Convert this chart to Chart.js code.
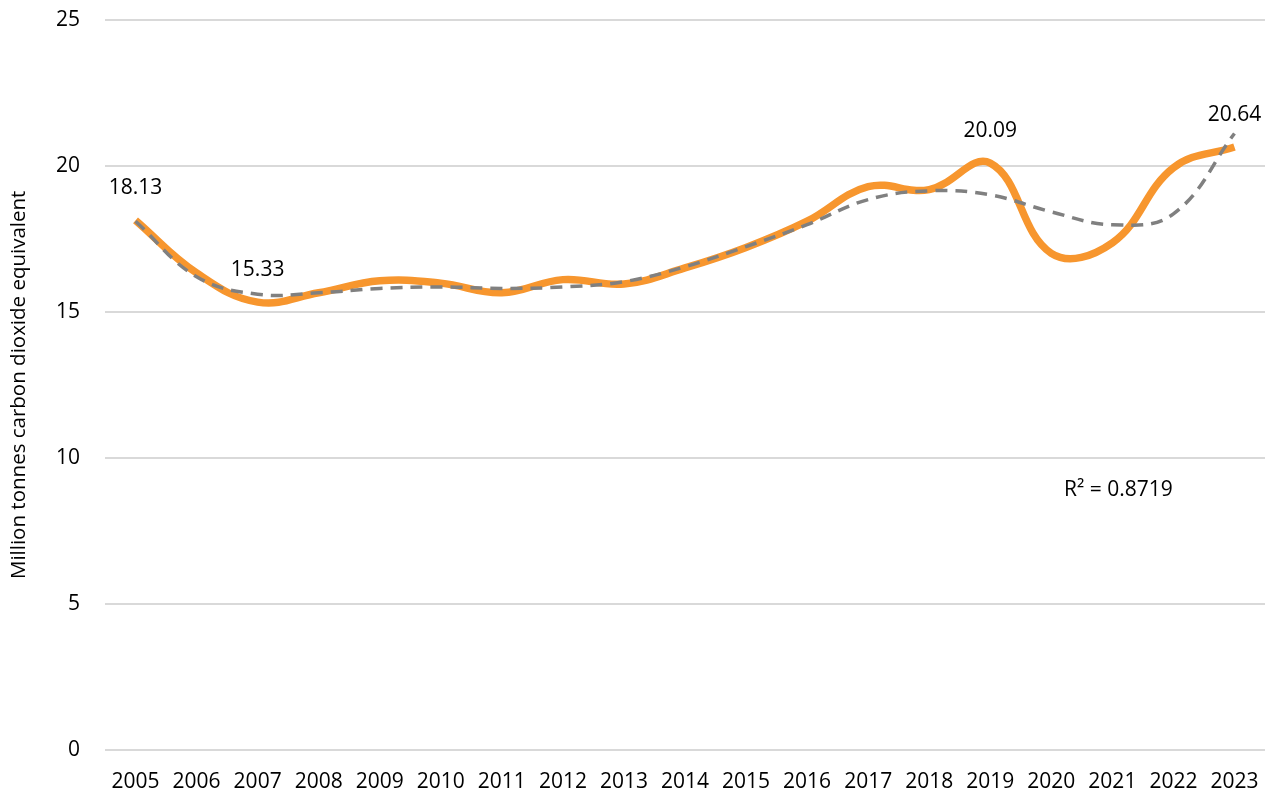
<!DOCTYPE html>
<html>
<head>
<meta charset="utf-8">
<script src="https://cdn.jsdelivr.net/npm/chart.js@4"></script>
<style>
  html, body { margin: 0; padding: 0; background: #fff; }
  #wrap { width: 1271px; height: 796px; }
</style>
</head>
<body>
<div id="wrap"><canvas id="emissionsChart"></canvas></div>
<script>
// years on the x axis
var years = ['2005','2006','2007','2008','2009','2010','2011','2012','2013','2014',
             '2015','2016','2017','2018','2019','2020','2021','2022','2023'];

// emissions, million tonnes CO2e
var emissions = [18.13, 16.33, 15.33, 15.65, 16.06, 15.98, 15.65, 16.1, 15.95, 16.5,
                 17.2, 18.1, 19.28, 19.18, 20.09, 17.0, 17.36, 19.93, 20.64];

// polynomial trend line
var trend = [18.1, 16.2, 15.6, 15.65, 15.8, 15.85, 15.8, 15.85, 16.03, 16.54,
             17.23, 17.98, 18.84, 19.14, 19.0, 18.42, 17.98, 18.35, 21.1];

// which points get a value label
var labelledYears = ['2005', '2007', '2019', '2023'];

var yTicks = [0, 5, 10, 15, 20, 25];
var rSquared = 'R\u00B2 = 0.8719';

var FONT = "'Open Sans', 'Noto Sans', sans-serif";

// draws the value labels and the R² note
var labelPlugin = {
  id: 'valueLabels',
  afterDatasetsDraw: function (chart) {
    var ctx = chart.ctx;
    var meta = chart.getDatasetMeta(1);
    ctx.save();
    ctx.font = '21px ' + FONT;
    ctx.fillStyle = '#000';
    ctx.textAlign = 'center';
    ctx.textBaseline = 'middle';
    meta.data.forEach(function (pt, i) {
      if (labelledYears.indexOf(years[i]) < 0) return;
      ctx.fillText(emissions[i].toFixed(2), pt.x, pt.y - 32);
    });
    var xs = chart.scales.x, ys = chart.scales.y;
    ctx.fillText(rSquared, xs.getPixelForValue(16.1), ys.getPixelForValue(8.9));
    ctx.restore();
  }
};

var ctx = document.getElementById('emissionsChart').getContext('2d');
var chart = new Chart(ctx, {
  type: 'line',
  data: {
    labels: years,
    datasets: [{
      label: 'Trend',
      data: trend,
      borderColor: '#808080',
      borderWidth: 3.5,
      borderDash: [12, 8],
      pointRadius: 0,
      tension: 0.4,
      fill: false,
      order: 0
    }, {
      label: 'Emissions',
      data: emissions,
      borderColor: '#F7962E',
      borderWidth: 7.5,
      pointRadius: 0,
      tension: 0.4,
      fill: false,
      order: 1
    }]
  },
  options: {
    responsive: true,
    maintainAspectRatio: false,
    animation: false,
    layout: { padding: { top: 0, right: 6, left: 7, bottom: 0 } },
    plugins: {
      legend: { display: false },
      tooltip: { enabled: false }
    },
    scales: {
      x: {
        offset: true,
        grid: { display: false },
        border: { display: false },
        ticks: { color: '#000', font: { family: FONT, size: 21 }, padding: 11, maxRotation: 0, autoSkip: false },
        afterFit: function (s) { s.height = 46; }
      },
      y: {
        min: 0,
        max: 25,
        afterBuildTicks: function (s) { s.ticks = yTicks.map(function (v) { return { value: v }; }); },
        grid: { color: '#d9d9d9', lineWidth: 2, drawTicks: true, tickLength: 18, tickColor: 'rgba(0,0,0,0)' },
        border: { display: false },
        ticks: { color: '#000', font: { family: FONT, size: 21 }, padding: 7 },
        title: {
          display: true,
          text: 'Million tonnes carbon dioxide equivalent',
          color: '#000',
          font: { family: FONT, size: 20.5 },
          padding: 0
        },
        afterFit: function (s) { s.width = 98; }
      }
    }
  },
  plugins: [labelPlugin]
});
</script>
</body>
</html>
